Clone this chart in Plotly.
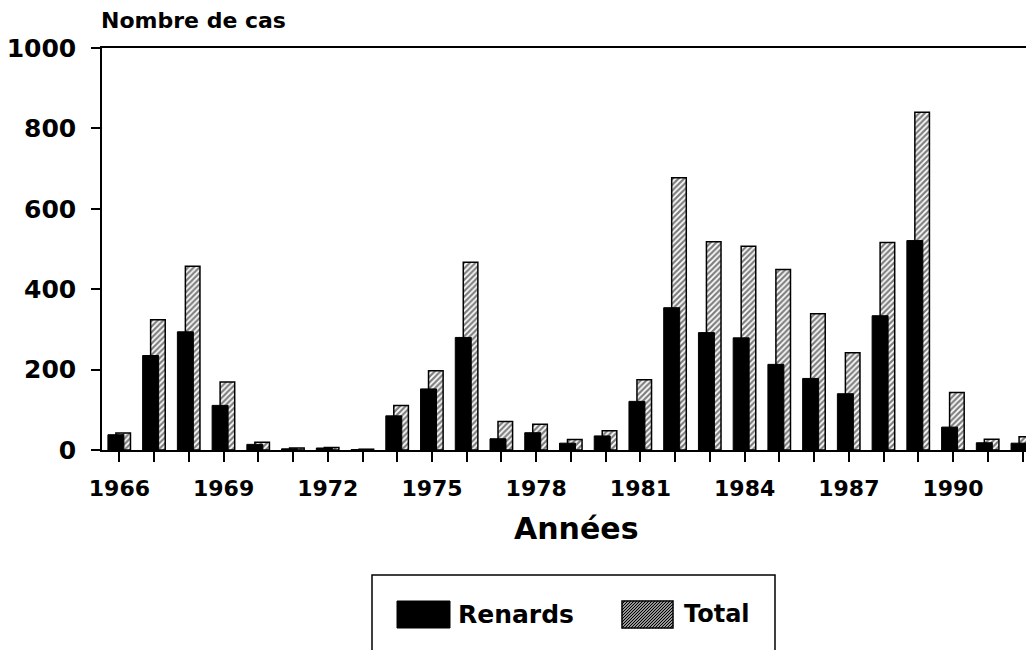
import plotly.graph_objects as go

# ---- data ----
years = list(range(1966, 1993))
renards = [38, 235, 294, 111, 14, 3, 5, 1, 85, 152, 280, 28, 43, 17, 35, 121,
           354, 292, 279, 213, 178, 140, 334, 521, 57, 18, 17]
total = [42, 324, 457, 169, 19, 5, 6, 2, 111, 197, 467, 71, 64, 26, 48, 175,
         677, 518, 507, 449, 339, 242, 516, 840, 143, 27, 33]
x_tick_vals = [1966, 1969, 1972, 1975, 1978, 1981, 1984, 1987, 1990]
x_tick_text = [str(v) for v in x_tick_vals]
y_tick_vals = [0, 200, 400, 600, 800, 1000]
y_tick_text = [str(v) for v in y_tick_vals]
series_names = ["Renards", "Total"]
y_title = "Nombre de cas"
x_title = "Années"

# ---- layout geometry (screen pixels; page body has an 8px margin) ----
OFF = 8
FW, FH = 1034 - OFF, 650 - OFF
L, R, T, B = 102 - OFF, 0, 48 - OFF, 200
W = FW - L - R
H = FH - T - B


def px(xs):
    return (xs - OFF - L) / W


def py(ys):
    return (T + H - (ys - OFF)) / H


FONT = "DejaVu Sans"
WGT = "bold"

fig = go.Figure()
fig.add_trace(go.Bar(
    x=years, y=total, name=series_names[1],
    offset=-0.1, width=0.42,
    marker=dict(color="white",
                line=dict(color="black", width=1.5),
                pattern=dict(shape="/", fgcolor="black", bgcolor="white",
                             size=4, solidity=0.55)),
    showlegend=False,
))
fig.add_trace(go.Bar(
    x=years, y=renards, name=series_names[0],
    offset=-0.33, width=0.46,
    marker=dict(color="black", line=dict(color="black", width=1)),
    showlegend=False,
))

# ---- legend drawn as a box ----
shapes = []
shapes.append(dict(type="rect", xref="paper", yref="paper",
                   x0=px(372), x1=px(775), y0=py(665), y1=py(575),
                   line=dict(color="black", width=1.5), fillcolor="rgba(0,0,0,0)"))
shapes.append(dict(type="rect", xref="paper", yref="paper",
                   x0=px(397), x1=px(450), y0=py(628), y1=py(601),
                   line=dict(color="black", width=1), fillcolor="black"))
hx0, hx1, hy0, hy1 = 622, 673, 601, 628
shapes.append(dict(type="rect", xref="paper", yref="paper",
                   x0=px(hx0), x1=px(hx1), y0=py(hy1), y1=py(hy0),
                   line=dict(color="black", width=1.5), fillcolor="white"))
segs = []
hh = hy1 - hy0
step = 3.0
k = 0
while True:
    x0 = hx0 - hh + k * step
    if x0 > hx1:
        break
    tmin = max(0, hx0 - x0)
    tmax = min(hh, hx1 - x0)
    if tmin < tmax:
        segs.append("M%.5f,%.5f L%.5f,%.5f" % (px(x0 + tmin), py(hy1 - tmin),
                                               px(x0 + tmax), py(hy1 - tmax)))
    k += 1
shapes.append(dict(type="path", xref="paper", yref="paper",
                   path=" ".join(segs), line=dict(color="black", width=1.2)))

annotations = [
    dict(text=y_title, xref="paper", yref="paper", x=px(99), y=py(21),
         xanchor="left", yanchor="middle", showarrow=False,
         font=dict(family=FONT, size=22, color="black", weight=WGT)),
    dict(text=x_title, xref="paper", yref="paper", x=px(576), y=py(528),
         xanchor="center", yanchor="middle", showarrow=False,
         font=dict(family=FONT, size=30, color="black", weight=WGT)),
    dict(text=series_names[0], xref="paper", yref="paper", x=px(456), y=py(614),
         xanchor="left", yanchor="middle", showarrow=False,
         font=dict(family=FONT, size=25, color="black", weight=WGT)),
    dict(text=series_names[1], xref="paper", yref="paper", x=px(682), y=py(614),
         xanchor="left", yanchor="middle", showarrow=False,
         font=dict(family=FONT, size=24, color="black", weight=WGT)),
]

fig.update_layout(
    width=FW, height=FH,
    margin=dict(l=L, r=R, t=T, b=B, pad=0, autoexpand=False),
    paper_bgcolor="white", plot_bgcolor="white",
    barmode="overlay",
    showlegend=False,
    shapes=shapes,
    annotations=annotations,
    font=dict(family=FONT, color="black"),
)
fig.update_xaxes(
    range=[1965.5, 1992.33], automargin=False,
    tickmode="array", tickvals=x_tick_vals, ticktext=x_tick_text,
    ticks="outside", ticklen=10, tickwidth=1.5, tickcolor="black",
    minor=dict(dtick=1, tick0=1966, ticks="outside", ticklen=10,
               tickwidth=1.5, tickcolor="black", showgrid=False),
    showline=True, linecolor="black", linewidth=1.5, mirror=True,
    showgrid=False, zeroline=False,
    tickfont=dict(family=FONT, size=22, color="black", weight=WGT),
    ticklabelstandoff=8,
)
fig.update_yaxes(
    range=[0, 1000], automargin=False,
    tickmode="array", tickvals=y_tick_vals, ticktext=y_tick_text,
    ticks="outside", ticklen=9, tickwidth=1.5, tickcolor="black",
    showline=True, linecolor="black", linewidth=1.5,
    showgrid=False, zeroline=False,
    tickfont=dict(family=FONT, size=25, color="black", weight=WGT),
    ticklabelstandoff=10,
)

fig.write_html("out.html")
